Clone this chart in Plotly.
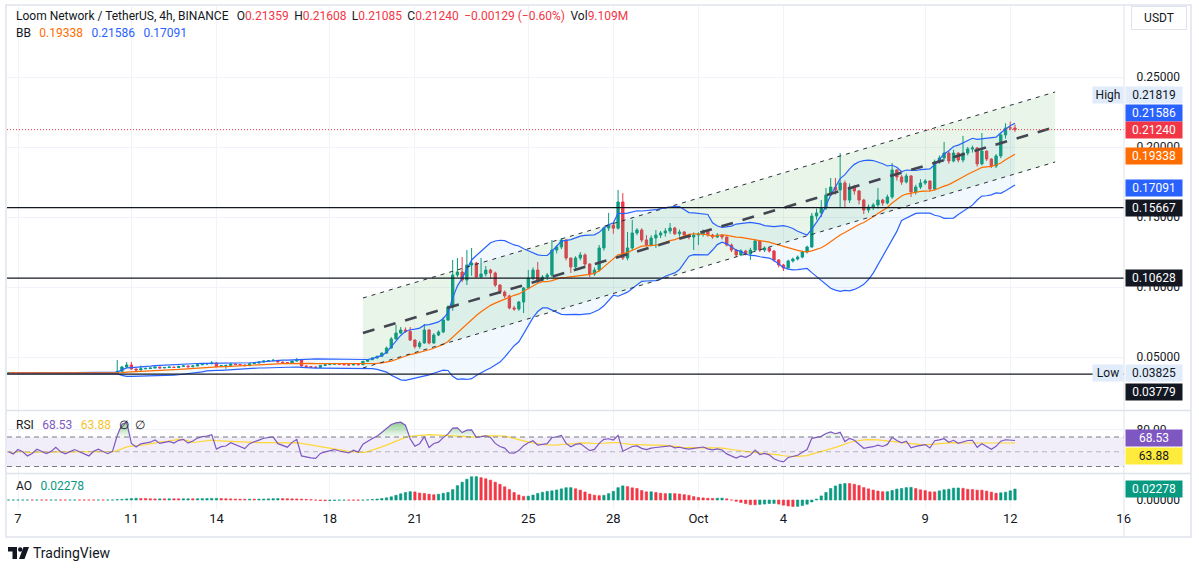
import numpy as np
import pandas as pd
import plotly.graph_objects as go

# ---------------- data ----------------
start_time = "2023-09-06 16:00"   # first visible 4h candle
first_open = 0.0385

close = [
    0.0386, 0.0385, 0.0387, 0.0386, 0.0384, 0.0385, 0.0387, 0.0386, 0.0385, 0.0386,
    0.0388, 0.0386, 0.0385, 0.0386, 0.0387, 0.0386, 0.0385, 0.0384, 0.0386, 0.0387,
    0.0386, 0.0385, 0.0386, 0.0398, 0.0429, 0.0443, 0.0414, 0.0407, 0.0416, 0.0418,
    0.0421, 0.0428, 0.0422, 0.0425, 0.0428, 0.0425, 0.0433, 0.0436, 0.0430, 0.0436,
    0.0445, 0.0450, 0.0452, 0.0457, 0.0431, 0.0438, 0.0440, 0.0450, 0.0446, 0.0443,
    0.0438, 0.0452, 0.0457, 0.0464, 0.0471, 0.0474, 0.0476, 0.0464, 0.0460, 0.0457,
    0.0471, 0.0481, 0.0436, 0.0431, 0.0428, 0.0426, 0.0440, 0.0445, 0.0448, 0.0452,
    0.0448, 0.0445, 0.0443, 0.0450, 0.0445, 0.0469, 0.0481, 0.0493, 0.0505, 0.0528,
    0.0564, 0.0629, 0.0671, 0.0693, 0.0682, 0.0621, 0.0575, 0.0600, 0.0693, 0.0600,
    0.0657, 0.0679, 0.0764, 0.0857, 0.1086, 0.1107, 0.1050, 0.1157, 0.1171, 0.1071,
    0.1093, 0.1121, 0.1100, 0.1014, 0.0964, 0.0936, 0.0850, 0.0843, 0.0893, 0.0993,
    0.1064, 0.1121, 0.1050, 0.1071, 0.1086, 0.1264, 0.1286, 0.1336, 0.1207, 0.1143,
    0.1207, 0.1229, 0.1164, 0.1093, 0.1121, 0.1279, 0.1421, 0.1443, 0.1420, 0.1607,
    0.1207, 0.1279, 0.1386, 0.1407, 0.1336, 0.1300, 0.1350, 0.1371, 0.1386, 0.1400,
    0.1421, 0.1380, 0.1393, 0.1371, 0.1357, 0.1371, 0.1379, 0.1400, 0.1371, 0.1357,
    0.1371, 0.1357, 0.1300, 0.1264, 0.1229, 0.1257, 0.1236, 0.1264, 0.1329, 0.1264,
    0.1279, 0.1257, 0.1193, 0.1157, 0.1136, 0.1186, 0.1200, 0.1214, 0.1250, 0.1286,
    0.1507, 0.1529, 0.1564, 0.1657, 0.1714, 0.1693, 0.1743, 0.1621, 0.1714, 0.1686,
    0.1621, 0.1550, 0.1571, 0.1586, 0.1621, 0.1600, 0.1643, 0.1836, 0.1786, 0.1750,
    0.1793, 0.1679, 0.1714, 0.1743, 0.1757, 0.1700, 0.1893, 0.1921, 0.1957, 0.1900,
    0.1957, 0.1907, 0.1957, 0.1986, 0.1993, 0.1879, 0.1971, 0.1914, 0.1864, 0.1936,
    0.2086, 0.2136, 0.21359, 0.21240,
]

high = [
    0.0388, 0.0387, 0.0389, 0.0388, 0.0386, 0.0387, 0.0389, 0.0388, 0.0387, 0.0388,
    0.0390, 0.0389, 0.0387, 0.0388, 0.0389, 0.0388, 0.0387, 0.0386, 0.0388, 0.0389,
    0.0388, 0.0387, 0.0388, 0.0479, 0.0436, 0.0464, 0.0464, 0.0418, 0.0440, 0.0425,
    0.0426, 0.0432, 0.0430, 0.0429, 0.0432, 0.0430, 0.0437, 0.0440, 0.0438, 0.0440,
    0.0448, 0.0454, 0.0456, 0.0471, 0.0460, 0.0442, 0.0444, 0.0454, 0.0452, 0.0448,
    0.0445, 0.0455, 0.0460, 0.0467, 0.0474, 0.0478, 0.0486, 0.0478, 0.0466, 0.0462,
    0.0474, 0.0493, 0.0484, 0.0440, 0.0434, 0.0431, 0.0443, 0.0449, 0.0452, 0.0456,
    0.0454, 0.0450, 0.0447, 0.0453, 0.0452, 0.0472, 0.0485, 0.0497, 0.0509, 0.0532,
    0.0575, 0.0643, 0.0729, 0.0714, 0.0711, 0.0714, 0.0625, 0.0614, 0.0736, 0.0700,
    0.0670, 0.0690, 0.0786, 0.0870, 0.1193, 0.1207, 0.1214, 0.1264, 0.1279, 0.1180,
    0.1207, 0.1150, 0.1130, 0.1110, 0.1020, 0.0975, 0.0945, 0.0865, 0.0900, 0.1000,
    0.1121, 0.1140, 0.1179, 0.1085, 0.1100, 0.1336, 0.1300, 0.1350, 0.1340, 0.1210,
    0.1220, 0.1250, 0.1240, 0.1170, 0.1140, 0.1300, 0.1430, 0.1529, 0.1457, 0.1693,
    0.1671, 0.1393, 0.1479, 0.1420, 0.1420, 0.1370, 0.1370, 0.1407, 0.1400, 0.1420,
    0.1457, 0.1430, 0.1410, 0.1400, 0.1380, 0.1390, 0.1390, 0.1410, 0.1405, 0.1380,
    0.1385, 0.1375, 0.1360, 0.1310, 0.1270, 0.1270, 0.1265, 0.1280, 0.1340, 0.1335,
    0.1290, 0.1285, 0.1265, 0.1200, 0.1165, 0.1195, 0.1210, 0.1225, 0.1260, 0.1295,
    0.1529, 0.1560, 0.1621, 0.1707, 0.1779, 0.1779, 0.1957, 0.1760, 0.1740, 0.1730,
    0.1690, 0.1630, 0.1590, 0.1600, 0.1707, 0.1630, 0.1660, 0.1886, 0.1840, 0.1800,
    0.1810, 0.1800, 0.1730, 0.1770, 0.1770, 0.1760, 0.1910, 0.1940, 0.2036, 0.1970,
    0.1980, 0.1960, 0.2079, 0.2000, 0.2010, 0.2000, 0.2100, 0.1975, 0.1920, 0.1950,
    0.2100, 0.2170, 0.21819, 0.21608,
]

low = [
    0.0384, 0.0383, 0.0384, 0.0384, 0.03825, 0.0383, 0.0384, 0.0384, 0.0383, 0.0384,
    0.0385, 0.0384, 0.0383, 0.0384, 0.0384, 0.0384, 0.0383, 0.03825, 0.0384, 0.0385,
    0.0384, 0.0383, 0.0384, 0.0385, 0.0396, 0.0425, 0.0410, 0.0400, 0.0405, 0.0412,
    0.0415, 0.0418, 0.0419, 0.0420, 0.0423, 0.0422, 0.0423, 0.0430, 0.0427, 0.0428,
    0.0434, 0.0442, 0.0447, 0.0449, 0.0428, 0.0429, 0.0416, 0.0437, 0.0443, 0.0440,
    0.0435, 0.0436, 0.0450, 0.0455, 0.0462, 0.0468, 0.0471, 0.0461, 0.0457, 0.0454,
    0.0455, 0.0468, 0.0432, 0.0427, 0.0424, 0.0421, 0.0424, 0.0438, 0.0443, 0.0446,
    0.0445, 0.0442, 0.0440, 0.0441, 0.0442, 0.0443, 0.0466, 0.0478, 0.0489, 0.0501,
    0.0522, 0.0560, 0.0625, 0.0665, 0.0672, 0.0615, 0.0560, 0.0560, 0.0595, 0.0590,
    0.0595, 0.0650, 0.0670, 0.0757, 0.0830, 0.1070, 0.1035, 0.1014, 0.1080, 0.1065,
    0.1064, 0.1075, 0.1060, 0.1000, 0.0950, 0.0920, 0.0840, 0.0830, 0.0830, 0.0814,
    0.0985, 0.1050, 0.1030, 0.1040, 0.1050, 0.1071, 0.1240, 0.1270, 0.1190, 0.1100,
    0.1130, 0.1190, 0.1150, 0.1071, 0.1080, 0.1110, 0.1260, 0.1400, 0.1380, 0.1410,
    0.1193, 0.1190, 0.1260, 0.1370, 0.1320, 0.1290, 0.1290, 0.1279, 0.1350, 0.1360,
    0.1380, 0.1370, 0.1360, 0.1350, 0.1340, 0.1264, 0.1300, 0.1360, 0.1360, 0.1345,
    0.1350, 0.1340, 0.1290, 0.1250, 0.1214, 0.1220, 0.1225, 0.1193, 0.1250, 0.1250,
    0.1250, 0.1245, 0.1180, 0.1140, 0.1114, 0.1130, 0.1175, 0.1190, 0.1205, 0.1240,
    0.1280, 0.1480, 0.1500, 0.1550, 0.1650, 0.1660, 0.1571, 0.1571, 0.1600, 0.1660,
    0.1590, 0.1520, 0.1530, 0.1550, 0.1560, 0.1580, 0.1590, 0.1630, 0.1760, 0.1730,
    0.1740, 0.1643, 0.1660, 0.1700, 0.1730, 0.1680, 0.1690, 0.1880, 0.1900, 0.1880,
    0.1890, 0.1890, 0.1890, 0.1940, 0.1960, 0.1860, 0.1870, 0.1900, 0.1850, 0.1850,
    0.1920, 0.2060, 0.2120, 0.21085,
]

header_ohlc = ["0.21359", "0.21608", "0.21085", "0.21240"]
header_change = "\u22120.00129 (\u22120.60%)"
header_vol = "9.109M"
bb_last = [0.19338, 0.21586, 0.17091]          # basis, upper, lower
rsi_last = [68.53, 63.88]                       # RSI, RSI-MA
ao_last = 0.02278
levels = [0.15667, 0.10628, 0.03779]            # horizontal lines
last_price = 0.21240
range_high = 0.21819
range_low = 0.03825
channel_t = ["2023-09-19 04:00", "2023-10-13 14:00"]
channel_mid = [0.06714, 0.21429]
channel_half = 0.025
tick_dates = ["2023-09-07", "2023-09-11", "2023-09-14", "2023-09-18", "2023-09-21",
              "2023-09-25", "2023-09-28", "2023-10-01", "2023-10-04", "2023-10-09",
              "2023-10-12", "2023-10-16"]
tick_text = ["7", "11", "14", "18", "21", "25", "28", "Oct", "4", "9", "12", "16"]
price_ticks = [0.05, 0.10, 0.15, 0.20, 0.25]
rsi_ticks = [40, 80]
rsi_levels = [70, 50, 30]

# ---------------- colours / geometry ----------------
GREEN = "#089981"
RED = "#F23645"
BLUE = "#2962FF"
ORANGE = "#FF6D00"
PURPLE = "#7E57C2"
YELLOW = "#FDD835"
INK = "#131722"
GRID = "#f0f3fa"
BORDER = "#e0e3eb"
FONT = "Roboto"

W, H = 1199, 570
PL, PR, PT, PB = 7, 1124, 6, 509


def xp(px):
    return (px - PL) / (PR - PL)


def yp(py):
    return (PB - py) / (PB - PT)


# ---------------- derived series (standard indicators) ----------------
times = pd.date_range(start_time, periods=len(close), freq="4h")
opens = [first_open] + close[:-1]
s = pd.Series(close, dtype=float)
hs = pd.Series(high, dtype=float)
ls = pd.Series(low, dtype=float)

basis = s.rolling(20, min_periods=1).mean()
sd = s.rolling(20, min_periods=1).std(ddof=0)
bb_up = basis + 2 * sd
bb_lo = basis - 2 * sd

# Wilder RSI(14), seeded with the average move of the opening flat stretch
d = np.diff(np.asarray(close), prepend=close[0])
ag = al = float(np.mean(np.abs(d[1:23]))) / 2
rsi_vals = []
for v in d:
    ag = (ag * 13 + max(v, 0.0)) / 14
    al = (al * 13 + max(-v, 0.0)) / 14
    rsi_vals.append(100 - 100 / (1 + ag / al))
rsi = pd.Series(rsi_vals)
rsi_ma = rsi.rolling(14, min_periods=1).mean()

med = (hs + ls) / 2
ao = med.rolling(5, min_periods=1).mean() - med.rolling(34, min_periods=1).mean()
ao_col = [GREEN if i == 0 or ao[i] >= ao[i - 1] else RED for i in range(len(ao))]

ch_t = pd.to_datetime(channel_t)
ch_up = [m + channel_half for m in channel_mid]
ch_lo = [m - channel_half for m in channel_mid]

# ---------------- figure ----------------
fig = go.Figure()

# regression channel fill
fig.add_trace(go.Scatter(
    x=[ch_t[0], ch_t[1], ch_t[1], ch_t[0], ch_t[0]],
    y=[ch_up[0], ch_up[1], ch_lo[1], ch_lo[0], ch_up[0]],
    fill="toself", fillcolor="rgba(76,175,80,0.13)", line=dict(width=0),
    mode="lines", hoverinfo="skip"))

# Bollinger band fill + lines
fig.add_trace(go.Scatter(x=times, y=bb_up, mode="lines", line=dict(color=BLUE, width=1.2),
                         hoverinfo="skip"))
fig.add_trace(go.Scatter(x=times, y=bb_lo, mode="lines", line=dict(color=BLUE, width=1.2),
                         fill="tonexty", fillcolor="rgba(33,150,243,0.06)", hoverinfo="skip"))
fig.add_trace(go.Scatter(x=times, y=basis, mode="lines", line=dict(color=ORANGE, width=1.2),
                         hoverinfo="skip"))

# candles
fig.add_trace(go.Candlestick(
    x=times, open=opens, high=high, low=low, close=close,
    increasing=dict(line=dict(color=GREEN, width=1), fillcolor=GREEN),
    decreasing=dict(line=dict(color=RED, width=1), fillcolor=RED),
    whiskerwidth=0, hoverinfo="skip"))

# channel lines
for yy, wd, dash, col in [(ch_up, 1, "4px,5px", "#2a2e39"), (ch_lo, 1, "4px,5px", "#2a2e39"),
                          (channel_mid, 2.6, "12px,10px", "#434651")]:
    fig.add_trace(go.Scatter(x=list(ch_t), y=yy, mode="lines",
                             line=dict(color=col, width=wd, dash=dash), hoverinfo="skip"))

# RSI pane
fig.add_trace(go.Scatter(x=times, y=[70] * len(times), yaxis="y2", mode="lines",
                         line=dict(width=0), hoverinfo="skip"))
fig.add_trace(go.Scatter(x=times, y=np.maximum(rsi, 70), yaxis="y2", mode="lines",
                         line=dict(width=0), fill="tonexty",
                         fillgradient=dict(type="vertical", start=70, stop=95,
                                           colorscale=[[0, "rgba(76,175,80,0.05)"],
                                                       [1, "rgba(76,175,80,0.75)"]]),
                         hoverinfo="skip"))
fig.add_trace(go.Scatter(x=times, y=rsi_ma, yaxis="y2", mode="lines",
                         line=dict(color=YELLOW, width=1.2), hoverinfo="skip"))
fig.add_trace(go.Scatter(x=times, y=rsi, yaxis="y2", mode="lines",
                         line=dict(color=PURPLE, width=1.2), hoverinfo="skip"))

# AO pane (thin outline keeps near-zero bars visible, as on TradingView)
fig.add_trace(go.Bar(x=times, y=ao, yaxis="y3",
                     marker=dict(color=ao_col, line=dict(width=0.6, color=ao_col)),
                     width=4 * 3600 * 1000 * 0.5, hoverinfo="skip"))

# ---------------- axes ----------------
px_per_day = 28.35
day0 = pd.Timestamp("2023-09-07")
x_range = [day0 + pd.Timedelta(days=(PL - 18) / px_per_day),
           day0 + pd.Timedelta(days=(PR - 18) / px_per_day)]

main_range = [0.05 - (410 - 357) / 1400, 0.05 + (357 - PT) / 1400]
rsi_range = [70 - (473 - 437) / 0.7375, 70 + (437 - 411) / 0.7375]
ao_range = [-(PB - 500) / 483, (500 - 474) / 483]

fig.update_layout(
    width=W, height=H, margin=dict(l=PL, r=W - PR, t=PT, b=H - PB),
    paper_bgcolor="white", plot_bgcolor="white", showlegend=False,
    font=dict(family=FONT, size=12, color=INK),
    xaxis=dict(type="date", range=x_range, anchor="y3", tickvals=pd.to_datetime(tick_dates),
               ticktext=tick_text, showgrid=True, gridcolor=GRID, gridwidth=1, ticks="",
               showline=False, zeroline=False, tickfont=dict(size=13, color=INK),
               rangeslider=dict(visible=False), fixedrange=True),
    yaxis=dict(domain=[yp(410), 1], range=main_range, side="right", anchor="x",
               tickvals=price_ticks, ticktext=[f"{v:.5f}" for v in price_ticks],
               showgrid=True, gridcolor=GRID, zeroline=False, showline=False,
               ticks="outside", ticklen=9, tickcolor="rgba(0,0,0,0)",
               tickfont=dict(size=12, color=INK)),
    yaxis2=dict(domain=[yp(473), yp(411)], range=rsi_range, side="right", anchor="x",
                tickvals=rsi_ticks, ticktext=[f"{v:.2f}" for v in rsi_ticks],
                showgrid=True, gridcolor=GRID, zeroline=False, showline=False,
                ticks="outside", ticklen=9, tickcolor="rgba(0,0,0,0)",
                tickfont=dict(size=12, color=INK)),
    yaxis3=dict(domain=[0, yp(474)], range=ao_range, side="right", anchor="x",
                tickvals=[0], ticktext=["0.00000"], showgrid=False, zeroline=False,
                showline=False, ticks="outside", ticklen=9, tickcolor="rgba(0,0,0,0)",
                tickfont=dict(size=12, color=INK)),
)

# ---------------- shapes ----------------
shapes = []
shapes.append(dict(type="rect", xref="paper", yref="y2", x0=0, x1=1, y0=30, y1=70,
                   fillcolor="rgba(126,87,194,0.1)", line=dict(width=0), layer="below"))
for lv in rsi_levels:
    shapes.append(dict(type="line", xref="paper", yref="y2", x0=0, x1=1, y0=lv, y1=lv,
                       line=dict(color="#787B86" if lv != 50 else "rgba(120,123,134,0.5)",
                                 width=1, dash="5px,4px")))
for lv in levels:
    shapes.append(dict(type="line", xref="paper", yref="y", x0=0, x1=1, y0=lv, y1=lv,
                       line=dict(color=INK, width=1.2)))
shapes.append(dict(type="line", xref="paper", yref="y", x0=0, x1=1, y0=last_price, y1=last_price,
                   line=dict(color=RED, width=1, dash="1px,2px")))
for py in [410.5, 473.5]:
    shapes.append(dict(type="line", xref="paper", yref="paper", x0=xp(6), x1=xp(1191),
                       y0=yp(py), y1=yp(py), line=dict(color=BORDER, width=1.5)))
shapes.append(dict(type="line", xref="paper", yref="paper", x0=xp(PR), x1=xp(PR),
                   y0=yp(5), y1=yp(537), line=dict(color=BORDER, width=1)))
shapes.append(dict(type="rect", xref="paper", yref="paper", x0=xp(6), x1=xp(1191),
                   y0=yp(5), y1=yp(537), line=dict(color=BORDER, width=1.5)))


def path(points):
    return "M " + " L ".join(f"{xp(a):.5f},{yp(b):.5f}" for a, b in points) + " Z"


shapes.append(dict(type="path", xref="paper", yref="paper",
                   path=path([(8, 547), (17, 547), (17, 559), (12.5, 559), (12.5, 551.5), (8, 551.5)]),
                   fillcolor=INK, line=dict(width=0)))
shapes.append(dict(type="circle", xref="paper", yref="paper", x0=xp(18), x1=xp(22.4),
                   y0=yp(551.7), y1=yp(547.3), fillcolor=INK, line=dict(width=0)))
shapes.append(dict(type="path", xref="paper", yref="paper",
                   path=path([(23.5, 547), (29, 547), (24.5, 559), (19, 559)]),
                   fillcolor=INK, line=dict(width=0)))
fig.update_layout(shapes=shapes)

# ---------------- annotations ----------------
ann = []


def span(txt, col):
    return f'<span style="color:{col}">{txt}</span>'


g1 = "\u00a0\u2009"          # narrow gap between legend fields
g2 = "\u00a0\u00a0\u2009"    # wider gap
header1 = ("Loom Network / TetherUS, 4h, BINANCE" + g2 +
           "O" + span(header_ohlc[0], RED) + g1 + "H" + span(header_ohlc[1], RED) + g1 +
           "L" + span(header_ohlc[2], RED) + g1 + "C" + span(header_ohlc[3], RED) + g1 +
           span(header_change, RED) + g1 + "Vol" + span(header_vol, RED))
header2 = ("BB" + g2 + span(f"{bb_last[0]:.5f}", ORANGE) + g2 +
           span(f"{bb_last[1]:.5f}", BLUE) + g2 + span(f"{bb_last[2]:.5f}", BLUE))
rsi_leg = ("RSI" + g2 + span(f"{rsi_last[0]:.2f}", PURPLE) + g2 +
           span(f"{rsi_last[1]:.2f}", "#F4C430") + g2 + "\u2205" + g1 + "\u2205")
ao_leg = "AO" + g2 + span(f"{ao_last:.5f}", GREEN)
for txt, py in [(header1, 16), (header2, 33), (rsi_leg, 425), (ao_leg, 486)]:
    ann.append(dict(text=txt, xref="paper", yref="paper", x=xp(14), y=yp(py),
                    xanchor="left", yanchor="middle", showarrow=False,
                    font=dict(size=12, color=INK, family=FONT)))


def axis_label(text, yref, yval, bg, fg="white", shift=0, cx=1154, w=56):
    ann.append(dict(text=text, xref="paper", yref=yref, x=xp(cx), y=yval, yshift=shift,
                    xanchor="center", yanchor="middle", showarrow=False, bgcolor=bg,
                    width=w, height=16, borderpad=0,
                    font=dict(size=12, color=fg, family=FONT)))


LIGHT = "#e1ecfb"
axis_label(f"{range_high:.5f}", "y", range_high, LIGHT, INK, shift=27)
axis_label("High", "y", range_high, LIGHT, INK, shift=27, cx=1108, w=30)
axis_label(f"{bb_last[1]:.5f}", "y", bb_last[1], BLUE, shift=12)
axis_label(f"{last_price:.5f}", "y", last_price, RED)
axis_label(f"{bb_last[0]:.5f}", "y", bb_last[0], ORANGE)
axis_label(f"{bb_last[2]:.5f}", "y", bb_last[2], BLUE)
axis_label(f"{levels[0]:.5f}", "y", levels[0], INK)
axis_label(f"{levels[1]:.5f}", "y", levels[1], INK)
axis_label(f"{range_low:.5f}", "y", range_low, LIGHT, INK)
axis_label("Low", "y", range_low, LIGHT, INK, cx=1108, w=30)
axis_label(f"{levels[2]:.5f}", "y", levels[2], INK, shift=-18)
axis_label(f"{rsi_last[0]:.2f}", "y2", rsi_last[0], PURPLE)
axis_label(f"{rsi_last[1]:.2f}", "y2", rsi_last[1], "#FFEB3B", INK, shift=-14)
axis_label(f"{ao_last:.5f}", "y3", ao_last, GREEN)

ann.append(dict(text="USDT", xref="paper", yref="paper", x=xp(1159), y=yp(18),
                xanchor="center", yanchor="middle", showarrow=False, width=54, height=22,
                bordercolor=BORDER, borderwidth=1, borderpad=0, bgcolor="white",
                font=dict(size=12, color=INK, family=FONT)))
ann.append(dict(text="TradingView", xref="paper", yref="paper", x=xp(31), y=yp(553),
                xanchor="left", yanchor="middle", showarrow=False,
                font=dict(size=14, color=INK, family=FONT)))
fig.update_layout(annotations=ann)

fig.write_html("out.html", config={"displayModeBar": False, "staticPlot": True},
               post_script="document.body.style.margin='0px';"
                           "document.body.style.overflow='hidden';")
